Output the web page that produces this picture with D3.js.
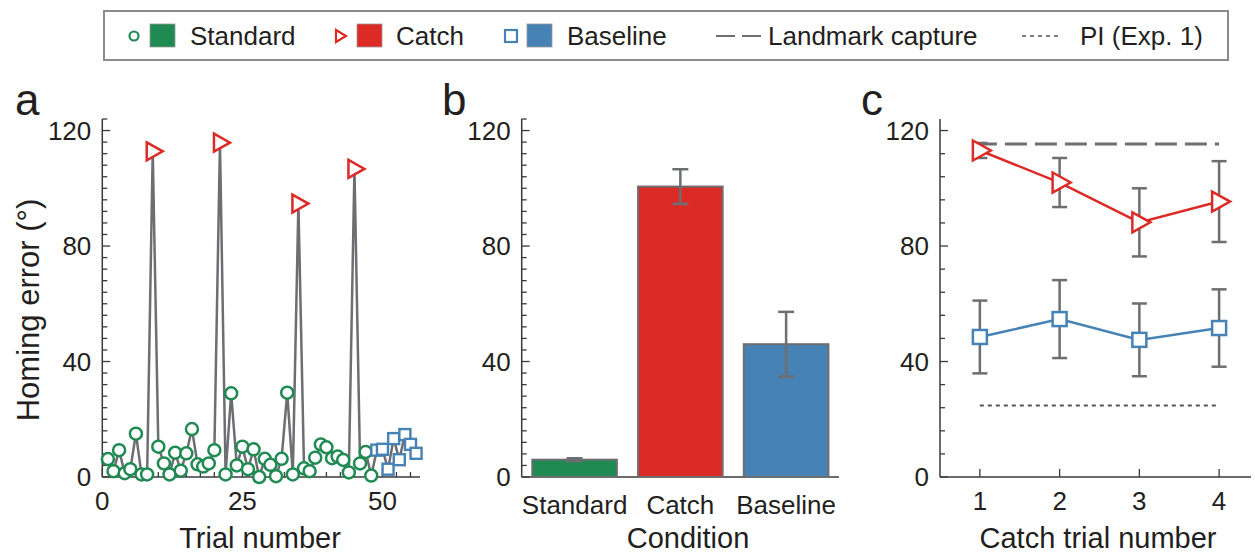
<!DOCTYPE html>
<html>
<head>
<meta charset="utf-8">
<script src="https://cdn.jsdelivr.net/npm/d3@7"></script>
<style>
  body { margin: 0; background: #fff; }
  svg text { font-family: "Liberation Sans", Arial, sans-serif; fill: #231f20; }
</style>
</head>
<body>
<div id="chart"></div>
<script>
// Panel a: homing error per trial (trial number = index + 1)
const trialErrors = [6.2, 2.0, 9.3, 1.3, 2.7, 15.0, 0.9, 0.9, 112.8, 10.5,
  4.7, 0.9, 8.4, 2.2, 8.2, 16.6, 4.4, 3.6, 4.7, 9.3,
  115.8, 0.9, 29.0, 4.0, 10.5, 2.7, 9.6, 0.0, 6.3, 4.2,
  0.3, 6.3, 29.2, 0.9, 94.7, 3.0, 2.0, 6.7, 11.3, 10.3,
  6.5, 7.1, 5.9, 1.6, 106.7, 4.7, 8.7, 0.5, 9.3, 9.6,
  2.7, 13.3, 6.0, 14.7, 11.3, 8.2];
const catchTrials = [9, 21, 35, 45];
const firstBaselineTrial = 49;
const trialTicks = [0, 25, 50];

// Panel b: mean homing error per condition
const conditions = ['Standard', 'Catch', 'Baseline'];
const conditionMeans = [6.0, 100.6, 46.0];
const conditionErrs = [0.5, 6.0, 11.2];

// Panel c: per catch trial number
const catchNumbers = [1, 2, 3, 4];
const catchMeans = [113.1, 102.0, 88.2, 95.4];
const catchErrs = [2.6, 8.5, 11.8, 14.0];
const baselineMeans = [48.5, 54.7, 47.5, 51.6];
const baselineErrs = [12.6, 13.5, 12.6, 13.4];
const landmarkCapture = 115.3;
const piExp1 = 24.8;

const yTicks = [0, 40, 80, 120];

const colors = { Standard: '#1f8a52', Catch: '#dc2a27', Baseline: '#4682b4' };
const grey = '#6d6e71';
const axisColor = '#3a3a3a';

const svg = d3.select('#chart').append('svg')
  .attr('width', 1255)
  .attr('height', 554);

const yTop = 119, yBottom = 477;
const yScale = d3.scaleLinear().domain([0, 124]).range([yBottom, yTop]);

/**
 * Draw a left y axis with inward ticks
 */
function drawYAxis(x0, minorStep) {
  const g = svg.append('g').attr('transform', `translate(${x0},0)`);
  g.append('line')
    .attr('y1', yScale(0)).attr('y2', yScale(124))
    .attr('stroke', axisColor).attr('stroke-width', 1.5);
  const minor = d3.range(0, 125, minorStep);
  g.selectAll('.minor').data(minor).enter().append('line')
    .attr('x1', 0).attr('x2', d => yTicks.includes(d) ? 8 : 5)
    .attr('y1', d => yScale(d)).attr('y2', d => yScale(d))
    .attr('stroke', axisColor).attr('stroke-width', 1.3);
  g.selectAll('.ylab').data(yTicks).enter().append('text')
    .attr('x', -11).attr('y', d => yScale(d) + 9)
    .attr('text-anchor', 'end')
    .style('font-size', '26px')
    .text(d => d);
  return g;
}

function trianglePath(w, h) {
  return `M${-w / 2},${-h / 2}L${w / 2},0L${-w / 2},${h / 2}Z`;
}

function panelLetter(x, letter) {
  svg.append('text').attr('x', x).attr('y', 115)
    .style('font-size', '44px').text(letter);
}

function xTitle(x, label) {
  svg.append('text').attr('x', x).attr('y', 548)
    .attr('text-anchor', 'middle').style('font-size', '29px').text(label);
}

// ---------- Panel a ----------
const xA = d3.scaleLinear().domain([0, 56.7]).range([102.3, 420]);
drawYAxis(102.3, 4);
const axA = svg.append('g');
axA.append('line')
  .attr('x1', xA(0)).attr('x2', xA(56.7))
  .attr('y1', yBottom).attr('y2', yBottom)
  .attr('stroke', axisColor).attr('stroke-width', 1.5);
axA.selectAll('.tick').data(d3.range(0, 56, 2.5)).enter().append('line')
  .attr('x1', d => xA(d)).attr('x2', d => xA(d))
  .attr('y1', yBottom).attr('y2', d => trialTicks.includes(d) ? yBottom - 8 : yBottom - 5)
  .attr('stroke', axisColor).attr('stroke-width', 1.3);
axA.selectAll('.xlab').data(trialTicks).enter().append('text')
  .attr('x', d => xA(d)).attr('y', 510)
  .attr('text-anchor', 'middle').style('font-size', '26px')
  .text(d => d);

const trialData = trialErrors.map((v, i) => {
  const t = i + 1;
  let type = 'Standard';
  if (catchTrials.includes(t)) type = 'Catch';
  else if (t >= firstBaselineTrial) type = 'Baseline';
  return { t, v, type };
});

svg.append('path')
  .datum(trialData)
  .attr('fill', 'none')
  .attr('stroke', grey)
  .attr('stroke-width', 2.5)
  .attr('stroke-linejoin', 'round')
  .attr('d', d3.line().x(d => xA(d.t)).y(d => yScale(d.v)));

const ptsA = svg.append('g');
ptsA.selectAll('circle').data(trialData.filter(d => d.type === 'Standard')).enter()
  .append('circle')
  .attr('cx', d => xA(d.t)).attr('cy', d => yScale(d.v)).attr('r', 6)
  .attr('fill', '#fff').attr('stroke', colors.Standard).attr('stroke-width', 2.5);
ptsA.selectAll('rect').data(trialData.filter(d => d.type === 'Baseline')).enter()
  .append('rect')
  .attr('x', d => xA(d.t) - 5.5).attr('y', d => yScale(d.v) - 5.5)
  .attr('width', 11).attr('height', 11)
  .attr('fill', '#fff').attr('stroke', colors.Baseline).attr('stroke-width', 2.4);
ptsA.selectAll('path').data(trialData.filter(d => d.type === 'Catch')).enter()
  .append('path')
  .attr('transform', d => `translate(${xA(d.t) + 2},${yScale(d.v)})`)
  .attr('d', trianglePath(16, 18))
  .attr('fill', '#fff').attr('stroke', colors.Catch).attr('stroke-width', 2.5);

panelLetter(15, 'a');
xTitle(260, 'Trial number');
svg.append('text')
  .attr('transform', 'translate(39,310) rotate(-90)')
  .attr('text-anchor', 'middle').style('font-size', '31px')
  .text('Homing error (°)');

// ---------- Panel b ----------
const xB = d3.scaleBand().domain(conditions).range([521.7, 839])
  .paddingInner(0.2).paddingOuter(0.1);
drawYAxis(521.7, 4);
svg.append('line')
  .attr('x1', 521.7).attr('x2', 839)
  .attr('y1', yBottom).attr('y2', yBottom)
  .attr('stroke', axisColor).attr('stroke-width', 1.5);

const barData = conditions.map((c, i) => ({ c, m: conditionMeans[i], e: conditionErrs[i] }));
svg.selectAll('.bar').data(barData).enter().append('rect')
  .attr('class', 'bar')
  .attr('x', d => xB(d.c)).attr('width', xB.bandwidth())
  .attr('y', d => yScale(d.m)).attr('height', d => yBottom - yScale(d.m))
  .attr('fill', d => colors[d.c])
  .attr('stroke', grey).attr('stroke-width', 2);

const errB = svg.selectAll('.errb').data(barData).enter().append('g')
  .attr('transform', d => `translate(${xB(d.c) + xB.bandwidth() / 2},0)`);
errB.append('line')
  .attr('y1', d => yScale(d.m - d.e)).attr('y2', d => yScale(d.m + d.e))
  .attr('stroke', grey).attr('stroke-width', 2.5);
errB.append('line')
  .attr('x1', -8).attr('x2', 8)
  .attr('y1', d => yScale(d.m + d.e)).attr('y2', d => yScale(d.m + d.e))
  .attr('stroke', grey).attr('stroke-width', 2.5);
errB.append('line')
  .attr('x1', -8).attr('x2', 8)
  .attr('y1', d => yScale(d.m - d.e)).attr('y2', d => yScale(d.m - d.e))
  .attr('stroke', grey).attr('stroke-width', 2.5);

svg.selectAll('.catlab').data(conditions).enter().append('text')
  .attr('x', d => xB(d) + xB.bandwidth() / 2).attr('y', 514)
  .attr('text-anchor', 'middle').style('font-size', '26px')
  .text(d => d);

panelLetter(442, 'b');
xTitle(688, 'Condition');

// ---------- Panel c ----------
const xC = d3.scaleLinear().domain([0.5, 4.4]).range([940, 1251]);
drawYAxis(940, 8);
svg.append('line')
  .attr('x1', 940).attr('x2', 1251)
  .attr('y1', yBottom).attr('y2', yBottom)
  .attr('stroke', axisColor).attr('stroke-width', 1.5);
svg.selectAll('.ctick').data(catchNumbers).enter().append('line')
  .attr('x1', d => xC(d)).attr('x2', d => xC(d))
  .attr('y1', yBottom).attr('y2', yBottom - 8)
  .attr('stroke', axisColor).attr('stroke-width', 1.3);
svg.selectAll('.clab').data(catchNumbers).enter().append('text')
  .attr('x', d => xC(d)).attr('y', 510)
  .attr('text-anchor', 'middle').style('font-size', '26px')
  .text(d => d);

// reference lines
svg.append('line')
  .attr('x1', xC(1) - 5).attr('x2', xC(4))
  .attr('y1', yScale(landmarkCapture)).attr('y2', yScale(landmarkCapture))
  .attr('stroke', grey).attr('stroke-width', 3)
  .attr('stroke-dasharray', '22,8');
svg.append('line')
  .attr('x1', xC(1)).attr('x2', xC(4))
  .attr('y1', yScale(piExp1)).attr('y2', yScale(piExp1))
  .attr('stroke', '#555').attr('stroke-width', 2)
  .attr('stroke-dasharray', '4,4');

const catchData = catchNumbers.map((n, i) => ({ n, m: catchMeans[i], e: catchErrs[i] }));
const baseData = catchNumbers.map((n, i) => ({ n, m: baselineMeans[i], e: baselineErrs[i] }));

function errorBars(data) {
  const g = svg.append('g').selectAll('g').data(data).enter().append('g')
    .attr('transform', d => `translate(${xC(d.n)},0)`);
  g.append('line')
    .attr('y1', d => yScale(d.m - d.e)).attr('y2', d => yScale(d.m + d.e))
    .attr('stroke', grey).attr('stroke-width', 2.5);
  [1, -1].forEach(s => {
    g.append('line')
      .attr('x1', -7.5).attr('x2', 7.5)
      .attr('y1', d => yScale(d.m + s * d.e)).attr('y2', d => yScale(d.m + s * d.e))
      .attr('stroke', grey).attr('stroke-width', 2.5);
  });
}
errorBars(catchData);
errorBars(baseData);

const lineC = d3.line().x(d => xC(d.n)).y(d => yScale(d.m));
svg.append('path').datum(catchData)
  .attr('fill', 'none').attr('stroke', colors.Catch).attr('stroke-width', 2.5)
  .attr('d', lineC);
svg.append('path').datum(baseData)
  .attr('fill', 'none').attr('stroke', colors.Baseline).attr('stroke-width', 2.5)
  .attr('d', lineC);

svg.selectAll('.ctri').data(catchData).enter().append('path')
  .attr('transform', d => `translate(${xC(d.n) + 2},${yScale(d.m)})`)
  .attr('d', trianglePath(18, 20))
  .attr('fill', '#fff').attr('stroke', colors.Catch).attr('stroke-width', 2.5);
svg.selectAll('.csq').data(baseData).enter().append('rect')
  .attr('x', d => xC(d.n) - 7).attr('y', d => yScale(d.m) - 7)
  .attr('width', 14).attr('height', 14)
  .attr('fill', '#fff').attr('stroke', colors.Baseline).attr('stroke-width', 2.5);

panelLetter(861, 'c');
xTitle(1098, 'Catch trial number');

// ---------- Legend ----------
const legend = svg.append('g');
legend.append('rect')
  .attr('x', 104).attr('y', 11).attr('width', 1124).attr('height', 49)
  .attr('fill', '#fff').attr('stroke', '#8c8c8c').attr('stroke-width', 2);

const ly = 36;
legend.append('circle').attr('cx', 134).attr('cy', ly).attr('r', 4.5)
  .attr('fill', '#fff').attr('stroke', colors.Standard).attr('stroke-width', 2.2);
legend.append('path').attr('transform', `translate(341,${ly})`)
  .attr('d', trianglePath(10, 12))
  .attr('fill', '#fff').attr('stroke', colors.Catch).attr('stroke-width', 2.2);
legend.append('rect').attr('x', 505).attr('y', ly - 6).attr('width', 12).attr('height', 12)
  .attr('fill', '#fff').attr('stroke', colors.Baseline).attr('stroke-width', 2.2);

const swatches = [
  { c: 'Standard', x: 150, tx: 190 },
  { c: 'Catch', x: 357, tx: 396 },
  { c: 'Baseline', x: 527, tx: 567 },
];
legend.selectAll('.sw').data(swatches).enter().append('rect')
  .attr('x', d => d.x).attr('y', ly - 12).attr('width', 25).attr('height', 23)
  .attr('fill', d => colors[d.c]).attr('stroke', '#999').attr('stroke-width', 0.8);
legend.selectAll('.lt').data(swatches).enter().append('text')
  .attr('x', d => d.tx).attr('y', ly + 9).style('font-size', '26px')
  .text(d => d.c);

legend.append('line').attr('x1', 716).attr('x2', 762).attr('y1', ly).attr('y2', ly)
  .attr('stroke', grey).attr('stroke-width', 2).attr('stroke-dasharray', '19,7');
legend.append('text').attr('x', 768).attr('y', ly + 9).style('font-size', '26px')
  .text('Landmark capture');
legend.append('line').attr('x1', 1022).attr('x2', 1062).attr('y1', ly).attr('y2', ly)
  .attr('stroke', '#555').attr('stroke-width', 1.5).attr('stroke-dasharray', '4,4');
legend.append('text').attr('x', 1080).attr('y', ly + 9).style('font-size', '26px')
  .text('PI (Exp. 1)');
</script>
</body>
</html>
